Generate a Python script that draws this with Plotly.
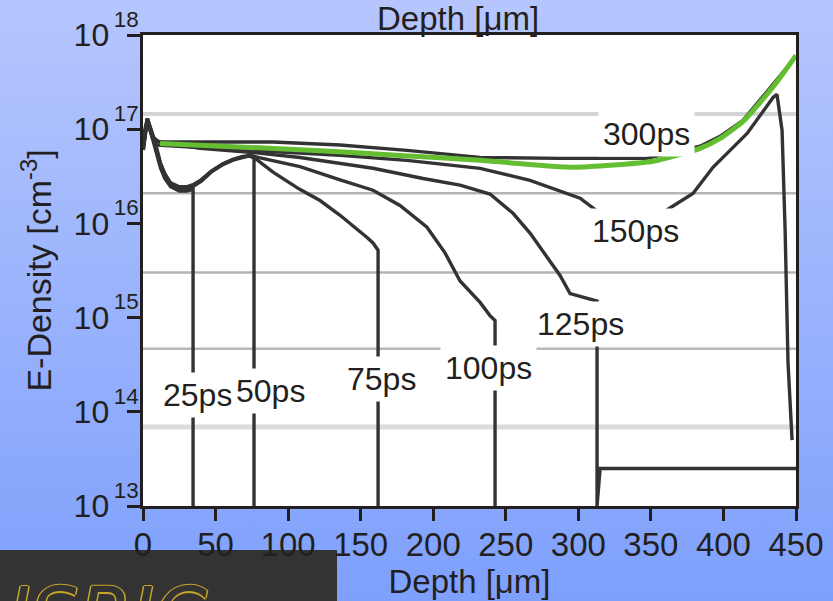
import base64
import numpy as np
import plotly.graph_objects as go

# ---- electron density profiles, depth in um, density in cm^-3 ----
depth_25 = [0.3, 3, 6, 9, 12, 15, 19, 25, 30, 34.5, 34.5]
dens_25 = [6.0e16, 1.26e17, 8.5e16, 5.8e16, 3.9e16, 3.0e16, 2.45e16, 2.2e16, 2.2e16, 2.3e16, 1e13]

depth_50 = [0.3, 3, 6, 9, 12, 15, 19, 25, 30, 35, 40, 47, 55, 62, 68, 73, 76.5, 76.5]
dens_50 = [6.3e16, 1.28e17, 9.0e16, 6.3e16, 4.2e16, 3.2e16, 2.6e16, 2.35e16, 2.35e16, 2.5e16,
           2.8e16, 3.5e16, 4.2e16, 4.7e16, 5.0e16, 5.2e16, 5.0e16, 1e13]

depth_75 = [0.3, 3, 6, 9, 12, 15, 19, 25, 30, 35, 40, 47, 55, 62, 68, 74, 78, 89.6, 108, 122,
            135.8, 154.4, 158.5, 162, 162]
dens_75 = [6.5e16, 1.3e17, 9.2e16, 6.5e16, 4.3e16, 3.3e16, 2.65e16, 2.4e16, 2.4e16, 2.55e16,
           2.85e16, 3.55e16, 4.25e16, 4.75e16, 5.05e16, 5.2e16, 4.8e16, 3.5e16, 2.3e16, 1.75e16,
           1.22e16, 7.1e15, 6.2e15, 5.2e15, 1e13]

depth_100 = [0.3, 3, 6, 9, 12, 15, 19, 25, 30, 35, 40, 47, 55, 62, 68, 74, 80, 108.2, 135.8,
             158.5, 177.1, 195.7, 208, 218.5, 232.3, 239.1, 242.6, 242.6]
dens_100 = [6.8e16, 1.3e17, 9.5e16, 6.7e16, 4.4e16, 3.4e16, 2.7e16, 2.45e16, 2.45e16, 2.6e16,
            2.9e16, 3.6e16, 4.3e16, 4.8e16, 5.1e16, 5.3e16, 5.0e16, 4.0e16, 2.9e16,
            2.25e16, 1.55e16, 9.1e15, 4.9e15, 2.45e15, 1.45e15, 1.05e15, 9.3e14, 1e13]

depth_125 = [0.3, 3, 6.5, 10, 39.3, 73.7, 108.2, 158.5, 193, 218.5, 239.1, 255, 266.7, 278.4,
             287.4, 294.3, 312.9, 312.9, 315, 450]
dens_125 = [8.5e16, 1.3e17, 8.5e16, 7.4e16, 6.25e16, 5.7e16, 5.0e16, 3.85e16, 3.0e16, 2.55e16,
            2.05e16, 1.28e16, 7.9e15, 4.4e15, 2.8e15, 1.8e15, 1.5e15, 1e13, 2.5e13, 2.5e13]

depth_150 = [0.3, 3, 6.5, 10, 73.7, 135.8, 181.9, 232.3, 266.7, 301.2, 315, 356.3, 379, 392.8,
             416.3, 434.2, 436.9, 440.4, 442.5, 444.5, 447.3]
dens_150 = [7.5e16, 1.25e17, 8.0e16, 6.8e16, 5.95e16, 5.27e16, 4.67e16, 3.84e16, 2.86e16, 1.85e16,
            1.28e16, 1.25e16, 2.08e16, 3.94e16, 9.0e16, 2.17e17, 2.34e17, 9.7e16, 8.45e15,
            3.3e14, 5.0e13]

depth_300 = [0.3, 3, 6.5, 11.7, 89.6, 135.8, 181.9, 232.3, 287.4, 347.3, 383.9, 397.7, 413.5,
             425.2, 437.6, 449.3]
dens_300 = [8.0e16, 1.2e17, 8.2e16, 7.3e16, 7.3e16, 6.8e16, 5.96e16, 5.02e16, 4.9e16, 4.9e16,
            6.6e16, 8.4e16, 1.24e17, 2.02e17, 3.46e17, 5.8e17]

# highlighted 300 ps profile
depth_300_hl = [11.7, 73.7, 128.9, 177.1, 232.3, 296.3, 351.5, 383.9, 397.7, 413.5, 425.2,
                437.6, 450]
dens_300_hl = [7.06e16, 6.41e16, 5.82e16, 5.27e16, 4.67e16, 3.94e16, 4.56e16, 6.25e16,
               7.98e16, 1.21e17, 1.92e17, 3.29e17, 6.07e17]

# faint horizontal rules running across the plot
rule_levels = [1.45e17, 2.09e16, 3.02e15, 4.68e14, 6.9e13]
rule_colors = ["#d4d4d4", "#b4b4b4", "#b4b4b4", "#b8b8b8", "#dcdcdc"]
rule_widths = [4, 2.5, 2.5, 2.5, 5]

# curve labels: text, depth, density
label_text = ["25ps", "50ps", "75ps", "100ps", "125ps", "150ps", "300ps"]
label_depth = [37.6, 88.2, 164.4, 238.1, 301.2, 339.1, 347.0]
label_dens = [1.52e14, 1.66e14, 2.25e14, 2.9e14, 8.5e14, 8.25e15, 8.8e16]

x_ticks = [0, 50, 100, 150, 200, 250, 300, 350, 400, 450]
y_ticks = [1e13, 1e14, 1e15, 1e16, 1e17, 1e18]
y_ticktext = ["10<sup><span style='baseline-shift:6px'>\u2009" + str(e) + "</span></sup>"
              for e in range(13, 19)]

INK = "#231f20"
FONT = "Liberation Sans, Arial, Helvetica, sans-serif"
W, H = 833, 601
ML, MR, MT, MB = 143, 37, 35, 95
PW, PH = W - ML - MR, H - MT - MB

fig = go.Figure()

for lvl, col, wid in zip(rule_levels, rule_colors, rule_widths):
    fig.add_trace(go.Scatter(x=[0, 450], y=[lvl, lvl], mode="lines",
                             line=dict(color=col, width=wid), hoverinfo="skip"))

profiles = [(depth_25, dens_25), (depth_50, dens_50), (depth_75, dens_75),
            (depth_100, dens_100), (depth_125, dens_125), (depth_150, dens_150),
            (depth_300, dens_300)]
for d, n in profiles:
    fig.add_trace(go.Scatter(x=d, y=n, mode="lines",
                             line=dict(color="#333333", width=3.4)))

fig.add_trace(go.Scatter(x=depth_300_hl, y=dens_300_hl, mode="lines",
                         line=dict(color="#64be32", width=5, shape="spline", smoothing=0.5)))

for t, d, n in zip(label_text, label_depth, label_dens):
    fig.add_annotation(x=d, y=np.log10(n), text=t, showarrow=False,
                       font=dict(family=FONT, size=32, color=INK),
                       bgcolor="white", borderpad=4)

# duplicate axis title above the frame
fig.add_annotation(text="Depth [μm]", xref="paper", yref="paper",
                   x=(458 - ML) / PW, y=1, yanchor="bottom", yshift=-4,
                   showarrow=False, font=dict(family=FONT, size=33, color=INK))

# background gradient
svg = ("<svg xmlns='http://www.w3.org/2000/svg' width='833' height='601'>"
       "<defs><linearGradient id='g' x1='0' y1='0' x2='0' y2='1'>"
       "<stop offset='0' stop-color='#b6c6fd'/><stop offset='1' stop-color='#7ea0fc'/>"
       "</linearGradient></defs><rect width='833' height='601' fill='url(#g)'/></svg>")
bg_src = "data:image/svg+xml;base64," + base64.b64encode(svg.encode()).decode()
fig.add_layout_image(source=bg_src, xref="paper", yref="paper",
                     x=-ML / PW, y=1 + MT / PH, sizex=W / PW, sizey=H / PH,
                     xanchor="left", yanchor="top", sizing="stretch", layer="below")

# white plotting area
fig.add_shape(type="rect", xref="paper", yref="paper", x0=0, x1=1, y0=0, y1=1,
              fillcolor="white", line=dict(width=0), layer="below")

# logo block in the lower-left corner
fig.add_shape(type="rect", xref="paper", yref="paper",
              x0=-ML / PW, x1=(337 - ML) / PW, y0=-MB / PH - 0.01, y1=-(550 - MT - PH) / PH,
              fillcolor="#333333", line=dict(width=0), layer="below")
gold = "#c9a52a"
fig.add_annotation(text="ISRIC", xref="paper", yref="paper",
                   x=(6 - ML) / PW, y=-(569 - MT - PH) / PH, xanchor="left", yanchor="top",
                   showarrow=False,
                   font=dict(family="DejaVu Sans", size=76, color="#333333", style="italic",
                             shadow=f"1.5px 0 0 {gold}, -1.5px 0 0 {gold}, 0 1.5px 0 {gold}, 0 -1.5px 0 {gold}"))

axis_common = dict(showline=True, linewidth=3, linecolor=INK, mirror=True,
                   ticks="outside", tickwidth=3, tickcolor=INK, showgrid=False,
                   zeroline=False, automargin=False)

fig.update_xaxes(range=[0, 450], tickvals=x_ticks, ticklen=12, ticklabelstandoff=-5,
                 tickfont=dict(family=FONT, size=33, color=INK),
                 title=dict(text="Depth [μm]", font=dict(family=FONT, size=33, color=INK),
                            standoff=4),
                 **axis_common)
fig.update_yaxes(type="log", range=[13, 18], tickvals=y_ticks, ticktext=y_ticktext,
                 ticklen=13, ticklabelstandoff=-18,
                 tickfont=dict(family=FONT, size=32, color=INK),
                 title=dict(text="E-Density [cm<sup>-3</sup>]",
                            font=dict(family=FONT, size=34, color=INK), standoff=12),
                 **axis_common)

fig.update_layout(width=W, height=H, margin=dict(l=ML, r=MR, t=MT, b=MB),
                  paper_bgcolor="#9db5fc", plot_bgcolor="white", showlegend=False,
                  font=dict(family=FONT, color=INK))

fig.write_html("out.html")
